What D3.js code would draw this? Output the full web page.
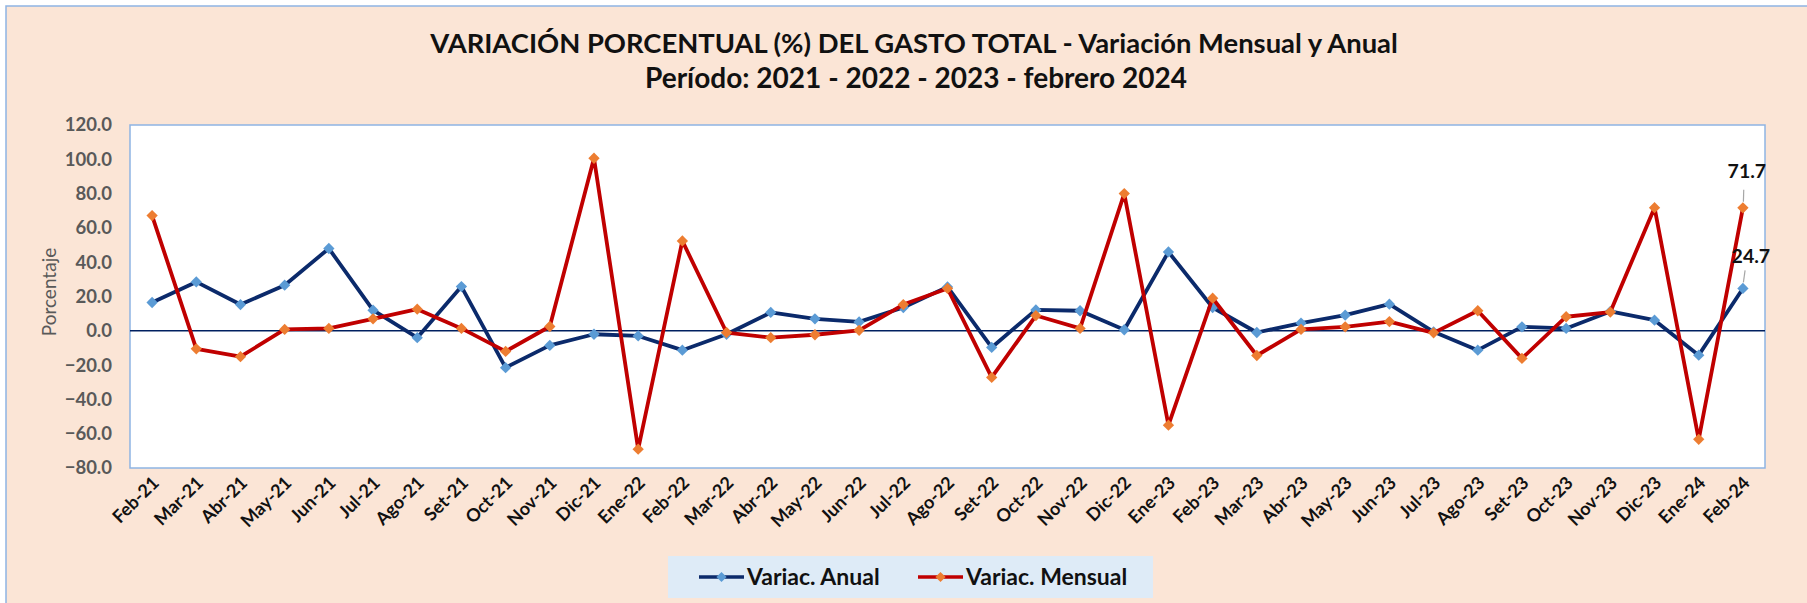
<!DOCTYPE html>
<html>
<head>
<meta charset="utf-8">
<script src="https://cdn.jsdelivr.net/npm/d3@7"></script>
<style>
  body { margin:0; background:#ffffff; }
  text { font-family: Lato, "Open Sans", sans-serif; }
</style>
</head>
<body>
<svg id="chart" width="1807" height="603"></svg>
<script>
var categories = ["Feb-21","Mar-21","Abr-21","May-21","Jun-21","Jul-21","Ago-21","Set-21","Oct-21","Nov-21","Dic-21",
    "Ene-22","Feb-22","Mar-22","Abr-22","May-22","Jun-22","Jul-22","Ago-22","Set-22","Oct-22","Nov-22","Dic-22",
    "Ene-23","Feb-23","Mar-23","Abr-23","May-23","Jun-23","Jul-23","Ago-23","Set-23","Oct-23","Nov-23","Dic-23",
    "Ene-24","Feb-24"];
var anual = [16.5,28.5,15.3,26.6,48.0,12.0,-4.0,25.8,-21.5,-8.5,-2.0,
    -3.0,-11.3,-2.0,10.7,7.0,5.2,13.6,25.6,-9.7,12.2,11.7,0.6,
    46.0,13.6,-1.0,4.5,9.1,15.5,-0.6,-11.3,2.3,1.4,11.3,6.2,
    -14.2,24.7];
var mensual = [67.2,-10.5,-15.1,0.8,1.4,7.0,12.6,1.4,-12.0,2.5,100.6,
    -69.0,52.4,-1.0,-4.0,-2.3,0.3,15.3,24.7,-27.2,8.9,1.4,80.0,
    -55.0,19.0,-14.4,0.8,2.3,5.4,-1.2,11.7,-16.1,8.2,10.9,71.8,
    -63.3,71.7];
var yTicks = [-80,-60,-40,-20,0,20,40,60,80,100,120];
var seriesNames = ["Variac. Anual","Variac. Mensual"];
var titleLines = ["VARIACIÓN PORCENTUAL (%) DEL GASTO TOTAL - Variación Mensual y Anual",
    "Período: 2021 - 2022 - 2023 - febrero 2024"];

var plot = {left:130, right:1765, top:125, bottom:468};
var svg, x, y;

var colors = {
    anualLine:'#0b2a6b', anualMark:'#5b9bd5',
    mensualLine:'#c00000', mensualMark:'#ed7d31'
};

document.addEventListener('DOMContentLoaded',function(){
    svg = d3.select('#chart');

    // chart background
    svg.append('rect')
        .attr('x',6).attr('y',6)
        .attr('width',1807).attr('height',610)
        .attr('fill','#fbe5d6')
        .attr('stroke','#8eb4e3')
        .attr('stroke-width',1.5);

    x = d3.scaleBand().domain(categories).range([plot.left,plot.right]);
    y = d3.scaleLinear().domain([-80,120]).range([plot.bottom,plot.top]);

    drawTitle();
    drawAxes();
    drawSeries(anual,colors.anualLine,colors.anualMark,'anual');
    drawSeries(mensual,colors.mensualLine,colors.mensualMark,'mensual');
    drawLabels();
    drawLegend();
})

function fitText(sel,width){
    var w = sel.node().getComputedTextLength();
    var fs = parseFloat(sel.attr('font-size'));
    sel.attr('font-size',(fs*width/w).toFixed(2));
}

function drawTitle(){
    var t1 = svg.append('text')
        .attr('x',914).attr('y',53)
        .attr('text-anchor','middle')
        .attr('font-size',25)
        .attr('font-weight','bold')
        .attr('fill','#111')
        .text(titleLines[0]);
    fitText(t1,968);
    var t2 = svg.append('text')
        .attr('x',916).attr('y',88)
        .attr('text-anchor','middle')
        .attr('font-size',25)
        .attr('font-weight','bold')
        .attr('fill','#111')
        .text(titleLines[1]);
    fitText(t2,542);
}

function drawAxes(){
    svg.append('rect')
        .attr('x',plot.left).attr('y',plot.top)
        .attr('width',plot.right-plot.left)
        .attr('height',plot.bottom-plot.top)
        .attr('fill','white')
        .attr('stroke','#8eb4e3')
        .attr('stroke-width',1.5);

    var yAxis = svg.append('g')
        .attr('transform','translate('+plot.left+',0)')
        .call(d3.axisLeft(y).tickValues(yTicks).tickSize(0).tickPadding(18)
            .tickFormat(d3.format('.1f')));
    yAxis.select('.domain').remove();
    yAxis.selectAll('text')
        .attr('font-family','Lato, sans-serif')
        .attr('font-size',18.5)
        .attr('font-weight','bold')
        .attr('fill','#595959');

    svg.append('text')
        .attr('transform','translate(56,292) rotate(-90)')
        .attr('text-anchor','middle')
        .attr('font-size',19)
        .attr('fill','#595959')
        .text('Porcentaje');

    var xAxis = svg.append('g')
        .attr('transform','translate(0,'+plot.bottom+')')
        .call(d3.axisBottom(x).tickSize(0).tickPadding(0));
    xAxis.select('.domain').remove();
    xAxis.selectAll('text')
        .attr('font-family','Lato, sans-serif')
        .attr('font-size',18)
        .attr('font-weight','bold')
        .attr('fill','#111')
        .attr('text-anchor','end')
        .attr('dy',0)
        .attr('transform','translate(8,16) rotate(-45)');

    // zero line
    svg.append('line')
        .attr('x1',plot.left).attr('x2',plot.right)
        .attr('y1',y(0)).attr('y2',y(0))
        .attr('stroke','#002060')
        .attr('stroke-width',1.5);
}

function drawSeries(values,lineColor,markColor,cls){
    var pts = values.map((v,i) => ({cat:categories[i],val:v}));
    var line = d3.line()
        .x(d => x(d.cat)+x.bandwidth()/2)
        .y(d => y(d.val));
    svg.append('path')
        .datum(pts)
        .attr('class',cls+'-line')
        .attr('d',line)
        .attr('fill','none')
        .attr('stroke',lineColor)
        .attr('stroke-width',3.8)
        .attr('stroke-linejoin','round');
    svg.selectAll('.'+cls+'-mark')
        .data(pts)
        .join('path')
        .attr('class',cls+'-mark')
        .attr('d',d3.symbol(d3.symbolSquare,64))
        .attr('transform',d => 'translate('+(x(d.cat)+x.bandwidth()/2)+','+y(d.val)+') rotate(45)')
        .attr('fill',markColor);
}

function drawLabels(){
    var last = categories.length-1;
    var cx = x(categories[last])+x.bandwidth()/2;
    var labels = [
        {val:mensual[last],dx:4,dy:-37},
        {val:anual[last],dx:8,dy:-32}
    ];
    labels.forEach(function(l){
        svg.append('line')
            .attr('x1',cx+0.5).attr('y1',y(l.val)-6)
            .attr('x2',cx-0.5+l.dx/3).attr('y2',y(l.val)-18)
            .attr('stroke','#a6a6a6')
            .attr('stroke-width',1.2);
        svg.append('text')
            .attr('x',cx+l.dx).attr('y',y(l.val)+l.dy)
            .attr('dy','0.35em')
            .attr('text-anchor','middle')
            .attr('font-size',19.5)
            .attr('font-weight','bold')
            .attr('fill','#111')
            .text(d3.format('.1f')(l.val));
    });
}

function drawLegend(){
    var g = svg.append('g');
    g.append('rect')
        .attr('x',668).attr('y',556)
        .attr('width',485).attr('height',42)
        .attr('fill','#deebf7');
    var items = [
        {name:seriesNames[0],x:699,line:colors.anualLine,mark:colors.anualMark},
        {name:seriesNames[1],x:918,line:colors.mensualLine,mark:colors.mensualMark}
    ];
    items.forEach(function(it){
        g.append('line')
            .attr('x1',it.x).attr('x2',it.x+45)
            .attr('y1',577).attr('y2',577)
            .attr('stroke',it.line)
            .attr('stroke-width',3.5);
        g.append('path')
            .attr('d',d3.symbol(d3.symbolSquare,52))
            .attr('transform','translate('+(it.x+22.5)+',577) rotate(45)')
            .attr('fill',it.mark);
        g.append('text')
            .attr('x',it.x+48).attr('y',577)
            .attr('dy','0.35em')
            .attr('font-size',23)
            .attr('font-weight','bold')
            .attr('fill','#111')
            .text(it.name);
    });
}
</script>
</body>
</html>
